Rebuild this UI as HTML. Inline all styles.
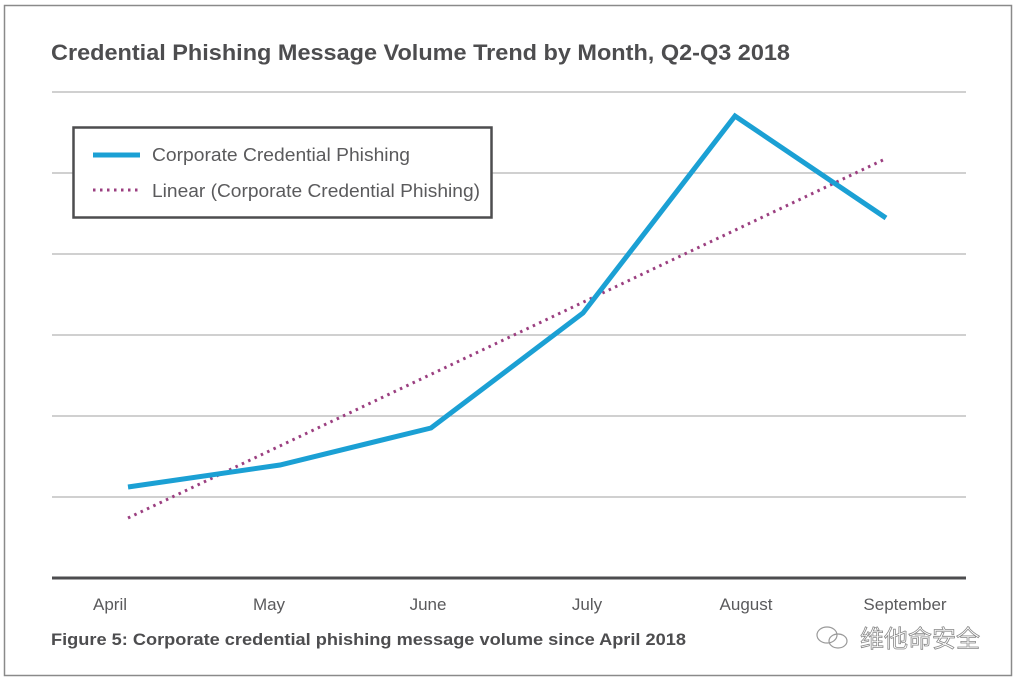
<!DOCTYPE html>
<html><head><meta charset="utf-8"><style>
body{margin:0;background:#fff;}
svg{display:block;font-family:"Liberation Sans",Arial,sans-serif;}
</style></head><body>
<svg width="1020" height="683" viewBox="0 0 1020 683" xmlns="http://www.w3.org/2000/svg">
<rect x="0" y="0" width="1020" height="683" fill="#fff"/>
<rect x="4.5" y="5.5" width="1007" height="670" fill="none" stroke="#8a8a8a" stroke-width="1.5"/>
<text x="51" y="60" font-size="22" font-weight="bold" fill="#4d4d4f" textLength="739" lengthAdjust="spacingAndGlyphs">Credential Phishing Message Volume Trend by Month, Q2-Q3 2018</text>
<g stroke="#b5b5b5" stroke-width="1.2">
<line x1="52" y1="92" x2="966" y2="92"/>
<line x1="52" y1="173" x2="966" y2="173"/>
<line x1="52" y1="254" x2="966" y2="254"/>
<line x1="52" y1="335" x2="966" y2="335"/>
<line x1="52" y1="416" x2="966" y2="416"/>
<line x1="52" y1="497" x2="966" y2="497"/>
</g>
<line x1="52" y1="578" x2="966" y2="578" stroke="#4d4d4f" stroke-width="3"/>
<line x1="128" y1="518" x2="883" y2="160" stroke="#9b3f80" stroke-width="3" stroke-dasharray="2.5 4.5"/>
<polyline points="128,487 280,465 431,428 583,313 735,116 886,218" fill="none" stroke="#1ba0d4" stroke-width="5" stroke-linejoin="miter"/>
<rect x="73.5" y="127.5" width="418" height="90" fill="#fff" stroke="#4d4d4f" stroke-width="2.5"/>
<line x1="93" y1="155" x2="140" y2="155" stroke="#1ba0d4" stroke-width="5"/>
<line x1="93" y1="190" x2="140" y2="190" stroke="#9b3f80" stroke-width="3" stroke-dasharray="2.5 4.5"/>
<text x="152" y="161" font-size="18" fill="#5a5a5c" textLength="258" lengthAdjust="spacingAndGlyphs">Corporate Credential Phishing</text>
<text x="152" y="197" font-size="18" fill="#5a5a5c" textLength="328" lengthAdjust="spacingAndGlyphs">Linear (Corporate Credential Phishing)</text>
<g font-size="17" fill="#5a5a5c" text-anchor="middle">
<text x="110" y="610">April</text>
<text x="269" y="610">May</text>
<text x="428" y="610">June</text>
<text x="587" y="610">July</text>
<text x="746" y="610">August</text>
<text x="905" y="610">September</text>
</g>
<text x="51" y="645" font-size="17" font-weight="bold" fill="#4d4d4f" textLength="635" lengthAdjust="spacingAndGlyphs">Figure 5: Corporate credential phishing message volume since April 2018</text>
<g fill="none" stroke="#999" stroke-width="1.2">
<ellipse cx="827" cy="635" rx="10" ry="8"/>
<ellipse cx="838" cy="641" rx="9" ry="7"/>
</g>
<text x="860" y="647" font-size="24" fill="#fff" stroke="#888" stroke-width="0.8" font-family="'Noto Sans CJK SC',sans-serif">维他命安全</text>
</svg>
</body></html>
